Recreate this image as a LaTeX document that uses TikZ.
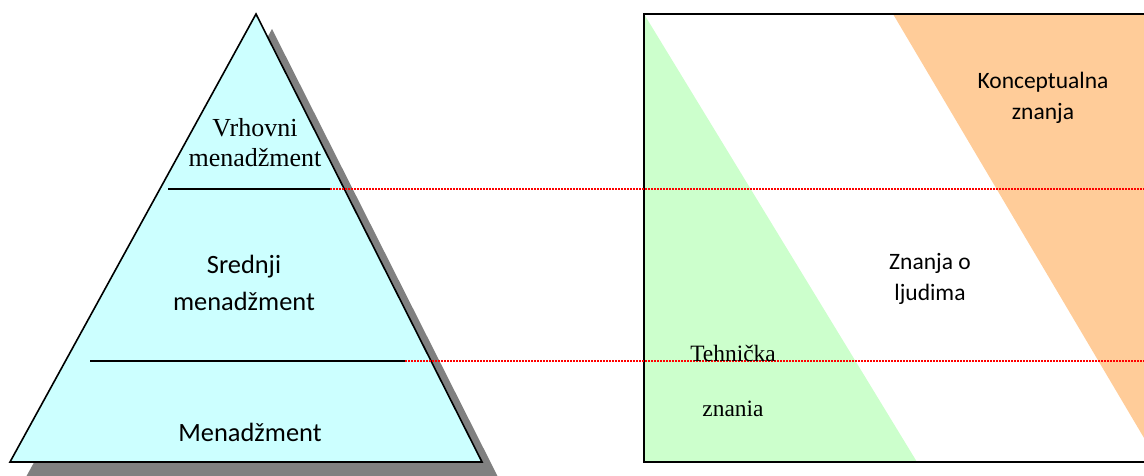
\documentclass[tikz,border=0pt]{standalone}
\usepackage{fontspec}
\setmainfont{Liberation Serif}
\newfontfamily\calibri{Carlito}
\usepackage{tikz}
\definecolor{pyramid}{HTML}{CCFFFF}
\definecolor{green1}{HTML}{CCFFCC}
\definecolor{orange1}{HTML}{FFCC99}
\definecolor{shadow}{HTML}{808080}
\definecolor{red1}{HTML}{FF0000}

\begin{document}
\begin{tikzpicture}[x=1pt,y=-1pt,
		level/.style={line width=1.4pt},
		guide/.style={red1,line width=1.3pt,dash pattern=on 1.5pt off 1.5pt},
		serifbig/.style={font=\fontsize{26}{30}\selectfont,align=center,inner sep=0pt},
		serifsmall/.style={font=\fontsize{23.4}{55}\selectfont,align=center,inner sep=0pt},
		sansbig/.style={font=\calibri\fontsize{26.4}{37}\selectfont,align=center,inner sep=0pt},
		sanssmall/.style={font=\calibri\fontsize{23.5}{31}\selectfont,align=center,inner sep=0pt}]
		\useasboundingbox (0,0) rectangle (1144,476);

		% pyramid
		\coordinate (apex) at (256,14);
		\coordinate (bl) at (10,462);
		\coordinate (br) at (482,462);
		\fill[shadow] ([shift={(16,15)}]apex) -- ([shift={(16,15)}]br) -- ([shift={(16,15)}]bl) -- cycle;
		\draw[fill=pyramid,line width=1.6pt] (apex) -- (br) -- (bl) -- cycle;
		\coordinate (up1) at (168,189);
		\coordinate (up2) at (330,189);
		\coordinate (lo1) at (90,361);
		\coordinate (lo2) at (405,361);
		\draw[level] (up1) -- (up2);
		\draw[level] (lo1) -- (lo2);

		% skills box
		\coordinate (tl) at (644,14);
		\coordinate (bll) at (644,462);
		\coordinate (brr) at (1147,462);
		\coordinate (trr) at (1147,14);
		\fill[green1] (tl) -- (bll) -- (917,462) -- cycle;
		\fill[orange1] (893,14) -- (trr) -- (1147,443) -- cycle;
		\draw[line width=1.5pt] (tl) rectangle (brr);

		\coordinate (up3) at (1144,189);
		\coordinate (lo3) at (1144,361);
		\draw[guide] (up2) -- (up3);
		\draw[guide] (lo2) -- (lo3);

		\node[serifbig] (vrh) at (255,143) {Vrhovni\\menadžment};
		\node[sansbig] (sred) at (244,283) {Srednji\\menadžment};
		\node[sansbig] (men) at (250,432) {Menadžment};
		\node[sanssmall] (konc) at (1043,98) {Konceptualna\\znanja};
		\node[sanssmall] (ljud) at (930,279) {Znanja o\\ljudima};
		\node[serifsmall] (teh) at (733,381) {Tehnička\\znania};
	\end{tikzpicture}
\end{document}
